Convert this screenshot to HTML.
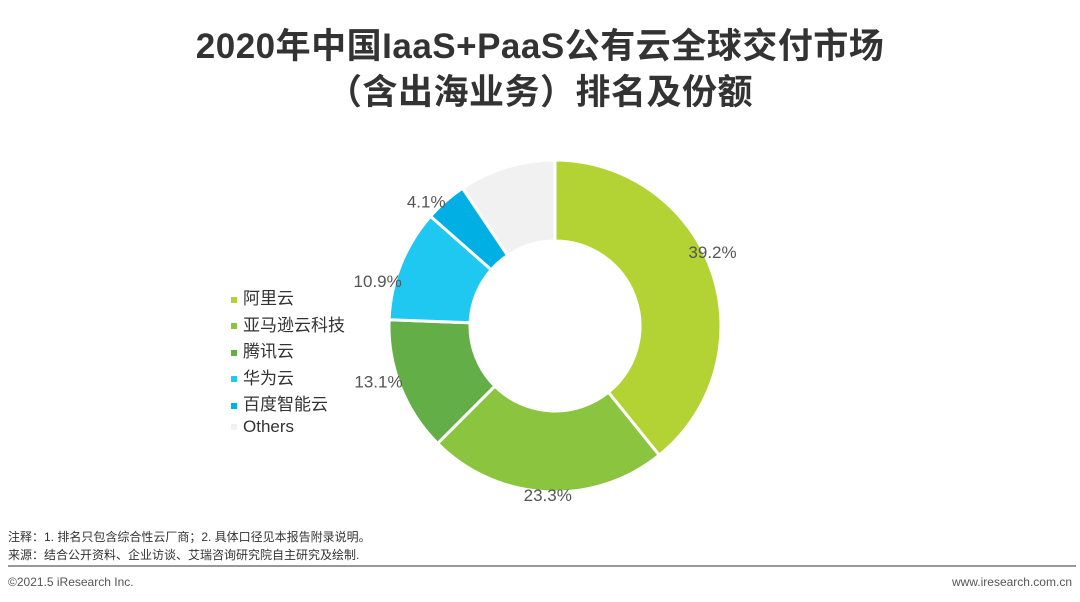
<!DOCTYPE html>
<html><head><meta charset="utf-8">
<style>
body{margin:0;width:1080px;height:602px;background:#fff;font-family:"Liberation Sans","Noto Sans CJK SC",sans-serif;overflow:hidden;position:relative}
.t{position:absolute;left:0;width:1080px;text-align:center;font-weight:bold;font-size:35px;color:#333;letter-spacing:0.5px}
.abs{position:absolute}
.leg{position:absolute;left:231px;font-size:17px;color:#333}
.sw{display:inline-block;width:6px;height:6px;margin-right:6px;vertical-align:middle}
.note{position:absolute;left:8px;font-size:12px;color:#333}
</style></head><body>
<div class="t" style="top:18px">2020年中国IaaS+PaaS公有云全球交付市场</div>
<div class="t" style="top:64px">（含出海业务）排名及份额</div>
<svg class="abs" style="left:0;top:0" width="1080" height="602" id="chart"></svg>
<div id="legend"></div>
<div class="note" style="top:528px">注释：1. 排名只包含综合性云厂商；2. 具体口径见本报告附录说明。</div>
<div class="note" style="top:546px">来源：结合公开资料、企业访谈、艾瑞咨询研究院自主研究及绘制.</div>
<div class="abs" style="left:8px;top:565px;width:1068px;height:2px;background:#999"></div>
<div class="note" style="top:575px;color:#555">©2021.5 iResearch Inc.</div>
<div class="note" style="top:575px;left:auto;right:8px;color:#555">www.iresearch.com.cn</div>
<script>
const categories=["阿里云","亚马逊云科技","腾讯云","华为云","百度智能云","Others"];
const values=[39.2,23.3,13.1,10.9,4.1,9.4];
const labels=["39.2%","23.3%","13.1%","10.9%","4.1%",""];
const colors=["#b3d334","#8bc43f","#63ae46","#1fc8f1","#00b0e4","#f1f1f1"];
const cx=555,cy=326,R=166,r=85;
const svg=document.getElementById('chart');
const NS="http://www.w3.org/2000/svg";
const total=values.reduce((a,b)=>a+b,0);
let a0=0;
function pt(rad,a){return [cx+rad*Math.sin(a),cy-rad*Math.cos(a)];}
const labelR=[174,169,185,183,179,0];
const labelShift=[-5.7,-0.6,4,-7.5,-4.8,0];
values.forEach((v,i)=>{
  const a1=a0+v/total*2*Math.PI;
  const large=(a1-a0)>Math.PI?1:0;
  const p1=pt(R,a0),p2=pt(R,a1),p3=pt(r,a1),p4=pt(r,a0);
  const p=document.createElementNS(NS,'path');
  p.setAttribute('d',`M${p1[0]},${p1[1]}A${R},${R} 0 ${large} 1 ${p2[0]},${p2[1]}L${p3[0]},${p3[1]}A${r},${r} 0 ${large} 0 ${p4[0]},${p4[1]}Z`);
  p.setAttribute('fill',colors[i]);p.setAttribute('stroke','#fff');p.setAttribute('stroke-width','3');
  
  
  svg.appendChild(p);
  if(labels[i]){
    const am=(a0+a1)/2+labelShift[i]*Math.PI/180;const lp=pt(labelR[i],am);
    const t=document.createElementNS(NS,'text');
    t.setAttribute('x',lp[0]);t.setAttribute('y',lp[1]+6);t.setAttribute('text-anchor','middle');
    t.setAttribute('font-size','17');t.setAttribute('fill','#555');t.setAttribute('font-family','Liberation Sans, sans-serif');
    t.textContent=labels[i];
    
    
    svg.appendChild(t);
  }
  a0=a1;
});
const lg=document.getElementById('legend');
categories.forEach((c,i)=>{
  const d=document.createElement('div');d.className='leg';d.style.top=(284+i*26.5)+'px';
  d.innerHTML=`<span class="sw" style="background:${colors[i]}"></span>${c}`;
  
  
  lg.appendChild(d);
});
</script>
</body></html>
